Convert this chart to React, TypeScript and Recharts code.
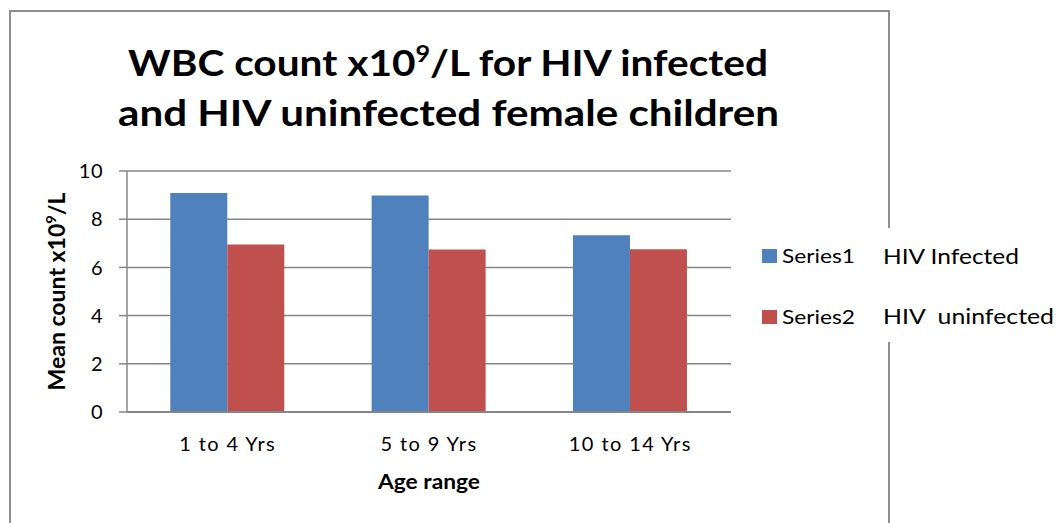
import { BarChart, Bar, XAxis, YAxis, CartesianGrid, Legend } from 'recharts';

const ageRanges = ['1 to 4 Yrs', '5 to 9 Yrs', '10 to 14 Yrs'];
const series1 = [9.09, 8.98, 7.33];
const series2 = [6.95, 6.74, 6.75];
const yTicks = [0, 2, 4, 6, 8, 10];
const seriesNotes = ['HIV Infected', 'HIV  uninfected'];

const FONT = 'Lato, "Open Sans", sans-serif';
const GRID = '#868686';
const BLUE = '#4F81BD';
const RED = '#C0504D';

const chartData = ageRanges.map((name, i) => ({
  name,
  Series1: series1[i],
  Series2: series2[i],
}));

function LegendBox({ payload }: any) {
  return (
    <svg width={100} height={90} style={{ display: 'block' }}>
      {(payload || []).map((p: any, i: number) => (
        <g key={p.value}>
          <rect x={0} y={9 + i * 61} width={15} height={14} fill={p.color} />
          <text
            x={20}
            y={23 + i * 61}
            fontFamily={FONT}
            fontSize={20}
            fill="#000"
            textLength={73}
            lengthAdjust="spacingAndGlyphs"
          >
            {p.value}
          </text>
        </g>
      ))}
    </svg>
  );
}

function YTitle({ viewBox }: any) {
  const x = viewBox.x - 22;
  const y = viewBox.y + viewBox.height / 2;
  return (
    <text
      x={x}
      y={y}
      transform={`rotate(-90, ${x}, ${y})`}
      textAnchor="middle"
      fontFamily={FONT}
      fontWeight="bold"
      fontSize={22}
      fill="#000"
      textLength={198}
      lengthAdjust="spacingAndGlyphs"
    >
      Mean count x10
      <tspan fontSize={14} dy={-9}>9</tspan>
      <tspan dy={9}>/L</tspan>
    </text>
  );
}

function XTitle({ viewBox }: any) {
  return (
    <text
      x={viewBox.x + viewBox.width / 2}
      y={viewBox.y + 77}
      textAnchor="middle"
      fontFamily={FONT}
      fontWeight="bold"
      fontSize={20}
      fill="#000"
      textLength={102}
      lengthAdjust="spacingAndGlyphs"
    >
      Age range
    </text>
  );
}

export default function App() {
  return (
    <div
      style={{
        position: 'absolute',
        left: 0,
        top: 0,
        width: 1057,
        height: 523,
        overflow: 'hidden',
        background: '#fff',
      }}
    >
      {/* chart frame */}
      <div
        style={{
          position: 'absolute',
          left: 9,
          top: 10,
          width: 881,
          height: 600,
          border: '2px solid #8e8e8e',
          boxSizing: 'border-box',
        }}
      />

      {/* title */}
      <svg width={1057} height={150} style={{ position: 'absolute', left: 0, top: 0 }}>
        <text
          x={128}
          y={76}
          fontFamily={FONT}
          fontWeight="bold"
          fontSize={37}
          fill="#000"
          textLength={640}
          lengthAdjust="spacingAndGlyphs"
        >
          WBC count x10
          <tspan fontSize={23} dy={-14}>9</tspan>
          <tspan dy={14}>/L for HIV infected</tspan>
        </text>
        <text
          x={118}
          y={126}
          fontFamily={FONT}
          fontWeight="bold"
          fontSize={37}
          fill="#000"
          textLength={661}
          lengthAdjust="spacingAndGlyphs"
        >
          and HIV uninfected female children
        </text>
      </svg>

      <div style={{ position: 'absolute', left: 0, top: 0 }}>
        <BarChart
          width={1057}
          height={523}
          data={chartData}
          margin={{ top: 171, right: 226, bottom: 81, left: 87 }}
          barCategoryGap="21.5%"
          barGap={0}
        >
          <CartesianGrid vertical={false} stroke={GRID} strokeWidth={1.5} />
          <XAxis
            dataKey="name"
            height={30}
            tickLine={false}
            tickSize={0}
            tickMargin={25}
            axisLine={{ stroke: GRID, strokeWidth: 2 }}
            tick={{ fontFamily: FONT, fontSize: 20, fill: '#000', letterSpacing: 1.4 }}
            label={<XTitle />}
          />
          <YAxis
            width={40}
            domain={[0, 10]}
            ticks={yTicks}
            tickSize={8}
            tickMargin={16}
            axisLine={{ stroke: GRID, strokeWidth: 1.5 }}
            tickLine={{ stroke: GRID, strokeWidth: 1.5 }}
            tick={{ fontFamily: FONT, fontSize: 20, fill: '#000', letterSpacing: 0.5 }}
            label={<YTitle />}
          />
          <Legend
            layout="horizontal"
            verticalAlign="middle"
            align="right"
            wrapperStyle={{ left: 762, top: 240, width: 100 }}
            content={<LegendBox />}
          />
          <Bar dataKey="Series1" name="Series1" fill={BLUE} isAnimationActive={false} />
          <Bar dataKey="Series2" name="Series2" fill={RED} isAnimationActive={false} />
        </BarChart>
      </div>

      {/* series notes box sitting over the frame */}
      <svg
        width={182}
        height={114}
        style={{ position: 'absolute', left: 875, top: 228, background: '#fff' }}
      >
        <text
          x={8}
          y={36}
          fontFamily={FONT}
          fontSize={22}
          fill="#000"
          textLength={136}
          lengthAdjust="spacingAndGlyphs"
        >
          {seriesNotes[0]}
        </text>
        <text
          x={8}
          y={96}
          fontFamily={FONT}
          fontSize={22}
          fill="#000"
          textLength={171}
          lengthAdjust="spacingAndGlyphs"
          style={{ whiteSpace: 'pre' }}
        >
          {seriesNotes[1]}
        </text>
      </svg>
    </div>
  );
}
